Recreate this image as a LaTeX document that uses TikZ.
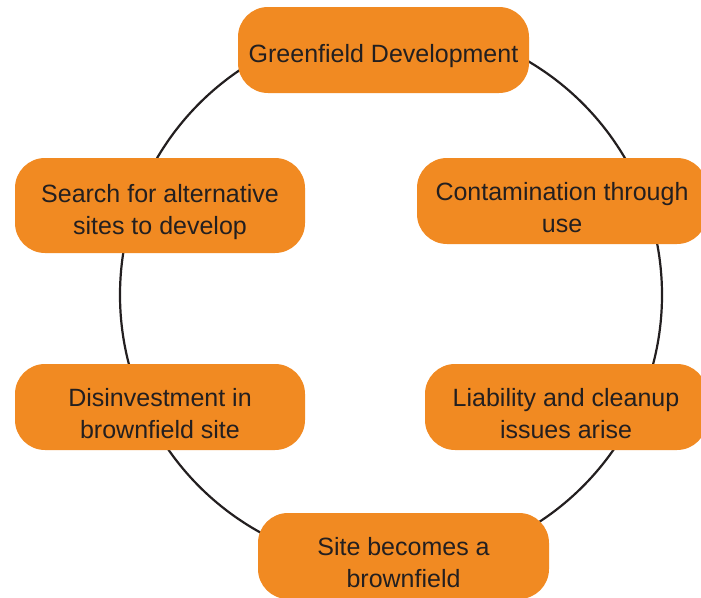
\documentclass[tikz,border=0pt]{standalone}
\usepackage{fontspec}
\setmainfont{Liberation Sans}
\definecolor{stageorange}{HTML}{F18A22}
\definecolor{inkgray}{HTML}{231F20}
\newcommand\stagestrut{\rule{0pt}{31pt}}
\tikzset{
  stage/.style={fill=stageorange,text=inkgray,rounded corners=30pt,
    align=center,inner sep=0pt,minimum height=86pt,
    font=\fontsize{25}{32}\selectfont}
}
\begin{document}
\begin{tikzpicture}[x=1pt,y=-1pt]
      \useasboundingbox (0,0) rectangle (701,597);
      \draw[inkgray,line width=2.2pt] (391,295) circle[radius=271];
      % stages of the cycle
      \node[stage,minimum width=291pt] (green) at (383.5,50) {\stagestrut Greenfield Development};
      \node[stage,minimum width=290pt] (contam) at (562,201) {\stagestrut Contamination through\\use};
      \node[stage,minimum width=282pt] (liab) at (566,407) {\stagestrut Liability and cleanup\\issues arise};
      \node[stage,minimum width=291pt] (brown) at (403.5,556) {\stagestrut Site becomes a\\brownfield};
      \node[stage,minimum width=290pt] (disinv) at (160,407) {\stagestrut Disinvestment in\\brownfield site};
      \node[stage,minimum width=290pt,minimum height=95pt] (search) at (160,205.5) {\stagestrut Search for alternative\\sites to develop};
    \end{tikzpicture}
\end{document}
